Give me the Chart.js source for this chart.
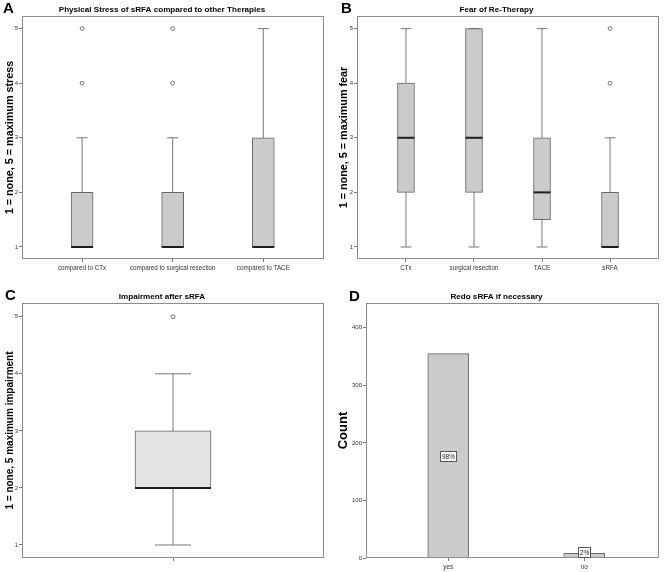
<!DOCTYPE html>
<html>
<head>
<meta charset="utf-8">
<script src="https://cdn.jsdelivr.net/npm/chart.js@4"></script>
<style>
  body { margin: 0; background: #fff; }
  #page { position: relative; width: 669px; height: 572px; font-family: 'Liberation Sans', Arial, sans-serif; }
  canvas { position: absolute; }
  .tag { position: absolute; font-weight: bold; font-size: 15px; line-height: 15px; color: #000; }
</style>
</head>
<body>
<div id="page">
  <canvas id="chart-stress" width="334" height="285" style="left:0;top:0"></canvas>
  <canvas id="chart-fear" width="335" height="285" style="left:334px;top:0"></canvas>
  <canvas id="chart-impair" width="334" height="287" style="left:0;top:285px"></canvas>
  <canvas id="chart-redo" width="335" height="287" style="left:334px;top:285px"></canvas>
  <div class="tag" style="left:3px;top:0">A</div>
  <div class="tag" style="left:341px;top:0">B</div>
  <div class="tag" style="left:5px;top:287px">C</div>
  <div class="tag" style="left:349px;top:288px">D</div>
</div>
<script>
Chart.defaults.font.family = "'Liberation Sans', Arial, sans-serif"
Chart.defaults.color = '#333'
Chart.defaults.animation = false
Chart.defaults.plugins.legend.display = false
Chart.defaults.plugins.tooltip.enabled = false

const scoreTicks = [1, 2, 3, 4, 5]

// A - physical stress
const stressLabels = ['compared to CTx', 'compared to surgical resection', 'compared to TACE']
const stressMin = [1, 1, 1]
const stressQ1 = [1, 1, 1]
const stressMedian = [1, 1, 1]
const stressQ3 = [2, 2, 3]
const stressMax = [3, 3, 5]
const stressOutliers = [[4, 5], [4, 5], []]

// B - fear of re-therapy
const fearLabels = ['CTx', 'surgical resection', 'TACE', 'sRFA']
const fearMin = [1, 1, 1, 1]
const fearQ1 = [2, 2, 1.5, 1]
const fearMedian = [3, 3, 2, 1]
const fearQ3 = [4, 5, 3, 2]
const fearMax = [5, 5, 5, 3]
const fearOutliers = [[], [], [], [4, 5]]

// C - impairment
const impairLabels = ['']
const impairMin = [1]
const impairQ1 = [2]
const impairMedian = [2]
const impairQ3 = [3]
const impairMax = [4]
const impairOutliers = [[5]]

// D - redo
const redoLabels = ['yes', 'no']
const redoCounts = [355, 8]
const countTicks = [0, 100, 200, 300, 400]


const framePlugin = {
    id: 'frame',
    afterDatasetsDraw(chart) {
        const { ctx, chartArea: a } = chart
        ctx.save()
        ctx.strokeStyle = '#8c8c8c'
        ctx.lineWidth = 1
        ctx.strokeRect(Math.round(a.left) + 0.5, Math.round(a.top) + 0.5, Math.round(a.width) - 1, Math.round(a.height) - 1)
        ctx.restore()
    }
}


function boxDatasets(mins, q1s, medians, q3s, maxs, outliers, look) {

    const datasets = []

    // whiskers
    mins.forEach((m, i) => {
        datasets.push({
            type: 'line',
            data: [{ x: i + 1, y: m }, { x: i + 1, y: maxs[i] }],
            borderColor: '#777',
            borderWidth: 1,
            pointRadius: 0,
            order: 5
        })
    })

    // whisker caps
    datasets.push({
        type: 'scatter',
        data: mins.flatMap((m, i) => [{ x: i + 1, y: m }, { x: i + 1, y: maxs[i] }]),
        pointStyle: 'line',
        pointRadius: look.cap / 2,
        borderColor: '#777',
        borderWidth: 1,
        order: 4
    })

    // boxes
    datasets.push({
        type: 'bar',
        data: q1s.map((q, i) => ({ x: i + 1, y: [q, q3s[i]] })),
        backgroundColor: look.fill,
        borderColor: '#666',
        borderWidth: 1,
        borderSkipped: false,
        barThickness: look.box,
        grouped: false,
        order: 3
    })

    // medians
    datasets.push({
        type: 'scatter',
        data: medians.map((m, i) => ({ x: i + 1, y: m })),
        pointStyle: 'line',
        pointRadius: look.box / 2,
        borderColor: '#1e1e1e',
        borderWidth: 2,
        order: 2
    })

    // outliers
    datasets.push({
        type: 'scatter',
        data: outliers.flatMap((o, i) => o.map(v => ({ x: i + 1, y: v }))),
        pointStyle: 'circle',
        pointRadius: 1.9,
        borderWidth: 0.8,
        borderColor: '#555',
        backgroundColor: '#fff',
        order: 1
    })

    return datasets
}


function chartOptions(title, yTitle, labels, yTicks, frame) {
    return {
        responsive: false,
        events: [],
        layout: { autoPadding: false, padding: { left: 0, right: frame.right, top: 0, bottom: 0 } },
        plugins: {
            title: {
                display: true,
                text: title,
                color: '#000',
                font: { size: 8.1, weight: 'bold' },
                padding: { top: frame.titleTop, bottom: frame.titleBottom }
            }
        },
        scales: {
            x: {
                type: 'linear',
                min: frame.xMin,
                max: frame.xMax,
                offset: false,
                afterBuildTicks: axis => { axis.ticks = labels.map((l, i) => ({ value: i + 1 })) },
                afterFit: axis => { axis.height = frame.xHeight },
                ticks: { callback: v => labels[v - 1], maxRotation: 0, autoSkip: false, font: { size: 6.3 }, padding: 2 },
                grid: { offset: false, drawOnChartArea: false, tickLength: 3, color: '#777' },
                border: { display: false }
            },
            y: {
                min: frame.yMin,
                max: frame.yMax,
                afterBuildTicks: axis => { axis.ticks = yTicks.map(v => ({ value: v })) },
                afterFit: axis => { axis.width = frame.yWidth },
                ticks: { font: { size: 6 }, padding: 1 },
                grid: { drawOnChartArea: false, tickLength: 3, color: '#777' },
                border: { display: false },
                title: {
                    display: true,
                    text: yTitle,
                    color: '#000',
                    font: { size: frame.yTitleSize, weight: 'bold' },
                    padding: { top: frame.yTitlePad, bottom: 0 }
                }
            }
        }
    }
}


//A
new Chart('chart-stress', {
    type: 'bar',
    data: { datasets: boxDatasets(stressMin, stressQ1, stressMedian, stressQ3, stressMax, stressOutliers, { box: 22, cap: 11, fill: '#cbcbcb' }) },
    options: chartOptions('Physical Stress of sRFA compared to other Therapies', '1 = none, 5 = maximum stress', stressLabels, scoreTicks,
        { right: 10, titleTop: 5, titleBottom: 1.3, xHeight: 26, yWidth: 22, yMin: 0.78, yMax: 5.23, xMin: 0.337, xMax: 3.67, yTitleSize: 10.8, yTitlePad: 3.5 }),
    plugins: [framePlugin]
})

//B
new Chart('chart-fear', {
    type: 'bar',
    data: { datasets: boxDatasets(fearMin, fearQ1, fearMedian, fearQ3, fearMax, fearOutliers, { box: 17, cap: 10.7, fill: '#cbcbcb' }) },
    options: chartOptions('Fear of Re-Therapy', '1 = none, 5 = maximum fear', fearLabels, scoreTicks,
        { right: 10, titleTop: 5, titleBottom: 1.3, xHeight: 26, yWidth: 23, yMin: 0.78, yMax: 5.23, xMin: 0.28, xMax: 4.72, yTitleSize: 10.8, yTitlePad: 3.5 }),
    plugins: [framePlugin]
})

//C
new Chart('chart-impair', {
    type: 'bar',
    data: { datasets: boxDatasets(impairMin, impairQ1, impairMedian, impairQ3, impairMax, impairOutliers, { box: 76, cap: 36, fill: '#e4e4e4' }) },
    options: chartOptions('Impairment after sRFA', '1 = none, 5 maximum impairment', impairLabels, scoreTicks,
        { right: 10, titleTop: 6.5, titleBottom: 1.8, xHeight: 14, yWidth: 22, yMin: 0.772, yMax: 5.24, xMin: 0, xMax: 2, yTitleSize: 10, yTitlePad: 4 }),
    plugins: [framePlugin]
})

//D
const pctLabels = {
    id: 'pctLabels',
    afterDatasetsDraw(chart) {
        const { ctx, chartArea, scales: { x, y } } = chart
        const total = redoCounts.reduce((s, c) => s + c, 0)
        ctx.save()
        ctx.font = "6.5px 'Liberation Sans', Arial, sans-serif"
        ctx.textAlign = 'center'
        ctx.textBaseline = 'middle'
        ctx.lineWidth = 1
        redoCounts.forEach((c, i) => {
            const text = Math.round(c / total * 100) + '%'
            const cx = Math.round(x.getPixelForValue(i + 1))
            const cy = Math.round(Math.min(y.getPixelForValue(c / 2), chartArea.bottom - 6))
            const w = Math.round(ctx.measureText(text).width + 3)
            const h = 10
            ctx.fillStyle = '#fff'
            ctx.fillRect(cx - w / 2, cy - h / 2, w, h)
            ctx.strokeStyle = '#555'
            ctx.strokeRect(cx - w / 2 + 0.5, cy - h / 2 + 0.5, w, h)
            ctx.fillStyle = '#222'
            ctx.fillText(text, cx + 0.5, cy + 1)
        })
        ctx.restore()
    }
}

new Chart('chart-redo', {
    type: 'bar',
    data: {
        datasets: [{
            data: redoCounts.map((c, i) => ({ x: i + 1, y: c })),
            backgroundColor: '#cbcbcb',
            borderColor: '#666',
            borderWidth: 1,
            barThickness: 41
        }]
    },
    options: chartOptions('Redo sRFA if necessary', 'Count', redoLabels, countTicks,
        { right: 10, titleTop: 6.5, titleBottom: 1.8, xHeight: 14, yWidth: 32, yMin: 0, yMax: 443, xMin: 0.395, xMax: 2.55, yTitleSize: 13, yTitlePad: 2 }),
    plugins: [framePlugin, pctLabels]
})
</script>
</body>
</html>
